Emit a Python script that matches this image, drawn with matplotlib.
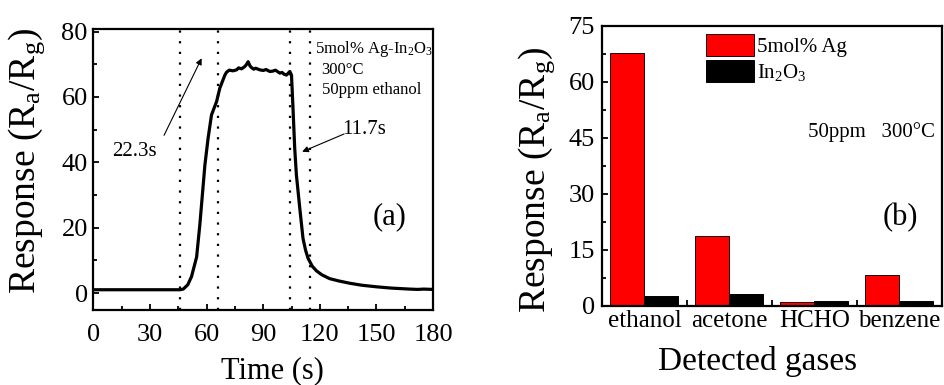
import matplotlib
matplotlib.use("Agg")
import matplotlib.pyplot as plt
from matplotlib.ticker import MultipleLocator, FixedLocator

plt.rcParams['font.family'] = ['Liberation Serif', 'DejaVu Serif']
plt.rcParams['mathtext.fontset'] = 'custom'
plt.rcParams['mathtext.rm'] = 'Liberation Serif'
plt.rcParams['mathtext.it'] = 'Liberation Serif:italic'

# ---------------- data: panel (a) ----------------
time_s = [0, 46, 47.6, 50, 52, 54.7, 56.4, 57.9, 59.1, 60.8,
          62.6, 65.3, 67.0, 69.7, 70.6, 72, 74, 75.9, 77, 78.5,
          80, 81, 82, 83, 83.8, 85, 86, 88.2, 90, 91.5,
          93.5, 95, 96.5, 98.8, 100, 101, 102.3, 103.3, 104.1, 105.0,
          105.8, 106.7, 107.6, 109.4, 111.1, 112.5, 113.8, 116, 118.2, 121,
          125.2, 130, 135.8, 142, 150, 158, 167.6, 172, 175, 180]
response = [1.0, 1.0, 1.2, 2.5, 5.0, 11.0, 20.8, 31.0, 39.2, 47.4,
            54.5, 58.6, 62.7, 66.7, 67.6, 68.2, 68.0, 68.3, 68.9, 68.6,
            69.2, 69.8, 70.8, 69.5, 69.0, 68.5, 68.8, 68.3, 68.1, 68.4,
            67.8, 67.9, 68.2, 67.3, 67.5, 67.0, 66.7, 67.3, 67.8, 66.7,
            56.5, 44.3, 36.1, 25.9, 16.7, 13.0, 10.6, 8.2, 6.8, 5.6,
            4.4, 3.7, 3.0, 2.4, 1.9, 1.5, 1.2, 1.1, 1.2, 1.1]
dotted_times = [45.8, 66.1, 104.4, 115.0]
x_ticks_a = [0, 30, 60, 90, 120, 150, 180]
y_ticks_a = [0, 20, 40, 60, 80]

# ---------------- data: panel (b) ----------------
gases = ['ethanol', 'acetone', 'HCHO', 'benzene']
ag_doped = [67.8, 18.6, 1.0, 8.3]
in2o3 = [2.6, 3.2, 1.1, 1.3]
y_ticks_b = [0, 15, 30, 45, 60, 75]

W, H = 944, 385
fig = plt.figure(figsize=(W / 100, H / 100), dpi=100)

def px_axes(x0, y0, x1, y1):
    return fig.add_axes([x0 / W, 1 - y1 / H, (x1 - x0) / W, (y1 - y0) / H])

TICK_FS = 19

# ================= panel (a) =================
ax1 = px_axes(93.4, 29, 433, 310)
ax1.plot(time_s, response, color='black', lw=2.3, solid_joinstyle='round')
for t in dotted_times:
    ax1.axvline(t, color='black', lw=1.6, linestyle=(0, (1.0, 3.8)))
ax1.set_xlim(0, 180)
ax1.set_ylim(-5.2, 80.8)
ax1.set_xticks(x_ticks_a)
ax1.set_yticks(y_ticks_a)
ax1.xaxis.set_minor_locator(MultipleLocator(15))
ax1.yaxis.set_minor_locator(MultipleLocator(10))
ax1.tick_params(axis='both', which='both', direction='in', top=False, right=False,
                width=1.3, labelsize=TICK_FS)
ax1.tick_params(axis='both', which='major', length=4)
ax1.tick_params(axis='both', which='minor', length=3)
ax1.tick_params(axis='x', which='major', pad=10)
ax1.tick_params(axis='y', which='major', pad=4)
for s in ax1.spines.values():
    s.set_linewidth(1.6)

ax1.annotate('', xy=(58.0, 72.6), xytext=(36.8, 47.5),
             arrowprops=dict(arrowstyle='-|>', lw=0.8, color='black', mutation_scale=9))
ax1.annotate('', xy=(109.3, 42.9), xytext=(134.2, 49.0),
             arrowprops=dict(arrowstyle='-|>', lw=0.8, color='black', mutation_scale=9))
ax1.text(21.5, 43.2, '22.3s', fontsize=15, ha='center', va='center')
ax1.text(143.7, 49.9, '11.7s', fontsize=15, ha='center', va='center')
ax1.text(157, 23.3, '(a)', fontsize=22, ha='center', va='center')
ax1.text(117.3, 74.7, '5mol% Ag-In$_2$O$_3$', fontsize=12, ha='left', va='center')
ax1.text(121, 68.3, '300\u00b0C', fontsize=12, ha='left', va='center')
ax1.text(121, 62.2, '50ppm ethanol', fontsize=12, ha='left', va='center')

fig.text(27 / W, 1 - 160.5 / H, 'Response (R$_\\mathrm{a}$/R$_\\mathrm{g}$)', rotation=90,
         fontsize=27, ha='center', va='center')
fig.text(272 / W, 1 - 378 / H, 'Time (s)', fontsize=22, ha='center', va='baseline')

# ================= panel (b) =================
ax2 = px_axes(602, 26, 941.5, 305.5)
idx = list(range(len(gases)))
bw = 0.4
ax2.bar([i - bw / 2 for i in idx], ag_doped, width=bw, color='#ff0000',
        edgecolor='#200000', lw=0.7, label='5mol% Ag')
ax2.bar([i + bw / 2 for i in idx], in2o3, width=bw, color='black',
        edgecolor='black', lw=0.7, label='In$_2$O$_3$')
ax2.set_xlim(-0.5, 3.5)
ax2.set_ylim(0, 75)
ax2.set_yticks(y_ticks_b)
ax2.yaxis.set_minor_locator(MultipleLocator(7.5))
ax2.set_xticks(idx)
ax2.set_xticklabels(gases)
ax2.xaxis.set_minor_locator(FixedLocator([0.5, 1.5, 2.5]))
ax2.tick_params(axis='both', which='both', direction='in', top=False, right=False,
                width=1.3, labelsize=TICK_FS)
ax2.tick_params(axis='y', which='major', length=4, pad=5)
ax2.tick_params(axis='y', which='minor', length=3)
ax2.tick_params(axis='x', which='major', length=0, pad=3, labelsize=18)
ax2.tick_params(axis='x', which='minor', length=4)
for s in ax2.spines.values():
    s.set_linewidth(1.6)

ax2.legend(loc='upper left', bbox_to_anchor=(0.306, 0.971), frameon=False,
           fontsize=15, handlelength=2.3, handleheight=1.25, labelspacing=0.13,
           handletextpad=0.15, borderpad=0, borderaxespad=0)
ax2.text(1.926, 46.5, '50ppm   300\u00b0C', fontsize=15, ha='left', va='center')
ax2.text(3.01, 23.7, '(b)', fontsize=22, ha='center', va='center')

fig.text(537 / W, 1 - 180 / H, 'Response (R$_\\mathrm{a}$/R$_\\mathrm{g}$)', rotation=90,
         fontsize=27, ha='center', va='center')
fig.text(758 / W, 1 - 370 / H, 'Detected gases', fontsize=24, ha='center', va='baseline')

fig.savefig('out.png', dpi=100)
